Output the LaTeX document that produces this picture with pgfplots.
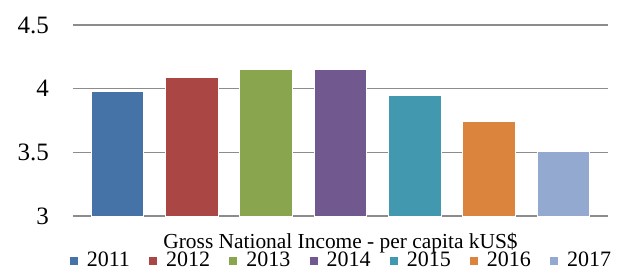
\documentclass[border=0pt]{standalone}
\usepackage{pgfplots}
\pgfplotsset{compat=1.18}
\usepackage{fontspec}
\setmainfont{Liberation Serif}
\definecolor{cA}{HTML}{4572A7}
\definecolor{cB}{HTML}{AA4643}
\definecolor{cC}{HTML}{89A54E}
\definecolor{cD}{HTML}{71588F}
\definecolor{cE}{HTML}{4198AF}
\definecolor{cF}{HTML}{DB843D}
\definecolor{cG}{HTML}{93A9CF}
\definecolor{gridc}{HTML}{8C8C8C}
\begin{document}
\begin{tikzpicture}
\begin{axis}[
  scale only axis, width=267.5pt, height=95.5pt,
  clip=false,
  ymin=3, ymax=4.5, ytick={3,3.5,4,4.5},
  yticklabel={\rmfamily\pgfmathprintnumber[assume math mode=true]{\tick}},
  xmin=-0.6, xmax=6.6, xtick=\empty,
  axis line style={draw=none},
  major tick length=0pt,
  ymajorgrids,
  grid style={draw=gridc, line width=0.8pt},
  yticklabel style={font=\fontsize{12.5}{13}\selectfont, anchor=east, xshift=-8.5pt},
  ybar, bar width=0.71, bar shift=0pt,
  every axis plot/.append style={draw=white, line width=0.5pt},
  xlabel={Gross National Income - per capita kUS\$},
  xlabel style={at={(axis description cs:0.5,0)}, anchor=base, yshift=-16pt, inner sep=0pt, font=\fontsize{10.7}{12}\selectfont},
  legend columns=-1,
  legend style={at={(0.5,0)}, anchor=north, yshift=-17.8pt, draw=none, fill=none,
    inner sep=0pt, font=\fontsize{11}{11}\selectfont,
    nodes={inner sep=0pt},
    /tikz/every odd column/.append style={column sep=4.5pt},
    /tikz/every even column/.append style={column sep=9.6pt}},
  legend image code/.code={\fill[#1, draw=none] (0pt,-2pt) rectangle (4pt,2pt);},
]
\addplot[fill=cA] coordinates {(0,3.98)};
\addplot[fill=cB] coordinates {(1,4.09)};
\addplot[fill=cC] coordinates {(2,4.15)};
\addplot[fill=cD] coordinates {(3,4.15)};
\addplot[fill=cE] coordinates {(4,3.95)};
\addplot[fill=cF] coordinates {(5,3.74)};
\addplot[fill=cG] coordinates {(6,3.51)};
\legend{2011,2012,2013,2014,2015,2016,2017}
\coordinate (SW) at (rel axis cs:0,0);
\coordinate (NE) at (rel axis cs:1,1);
\end{axis}
\pgfresetboundingbox
\path ([shift={(-36.5pt,-26pt)}]SW) rectangle ([shift={(10pt,12.5pt)}]NE);
\end{tikzpicture}
\end{document}
